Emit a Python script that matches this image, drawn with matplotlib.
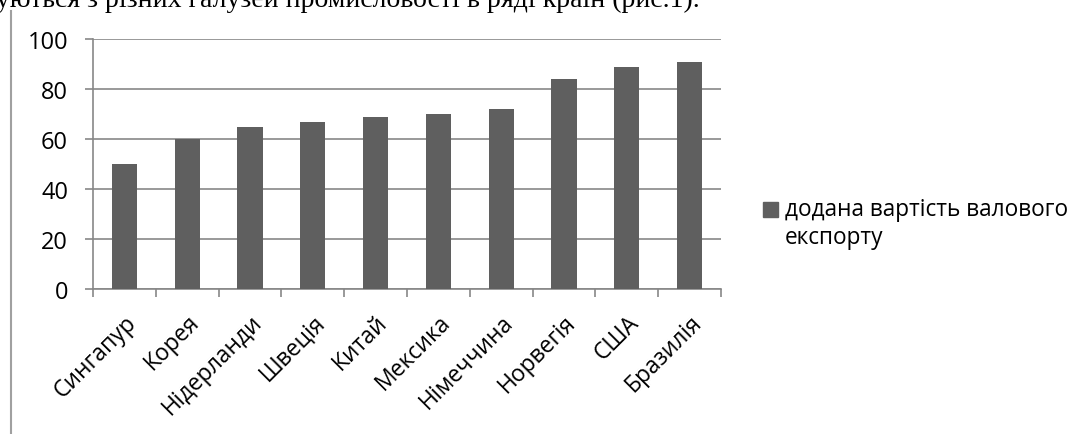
import matplotlib.pyplot as plt
from matplotlib.patches import Rectangle
from matplotlib.lines import Line2D

countries = ["Сингапур", "Корея", "Нідерланди", "Швеція", "Китай",
             "Мексика", "Німеччина", "Норвегія", "США", "Бразилія"]
values = [50, 60, 65, 67, 69, 70, 72, 84, 89, 91]
series_name = "додана вартість валового\nекспорту"
header = "уються з різних галузей промисловості в ряді країн (рис.1)."

W, H = 1088, 435
plt.rcParams['font.family'] = ['Open Sans', 'DejaVu Sans']

fig = plt.figure(figsize=(W / 100, H / 100), dpi=100)
ax = fig.add_axes([93 / W, 1 - 290 / H, (721 - 93) / W, 250 / H])

bar_color = '#5f5f5f'
grid_color = '#878787'
x = list(range(len(countries)))
ax.bar(x, values, width=0.4, color=bar_color, zorder=3)

ax.set_xlim(-0.5, len(countries) - 0.5)
ax.set_ylim(0, 100)
ax.set_yticks(range(0, 101, 20))
ax.yaxis.grid(True, color=grid_color, linewidth=1.2, zorder=0)
ax.tick_params(axis='y', length=6, width=1.2, color=grid_color, pad=12,
               labelsize=17, labelcolor='black')

# ticks between categories, labels at centers
ax.set_xticks([i - 0.5 for i in range(len(countries) + 1)])
ax.set_xticklabels([])
ax.set_xticks(x, minor=True)
ax.set_xticklabels(countries, minor=True, rotation=45, ha='right',
                   va='top', rotation_mode='anchor', fontsize=16.5)
ax.tick_params(axis='x', which='major', length=6, width=1.2, color=grid_color)
ax.tick_params(axis='x', which='minor', length=0, pad=15)

for side in ['top', 'right']:
    ax.spines[side].set_visible(False)
for side in ['left', 'bottom']:
    ax.spines[side].set_color(grid_color)
    ax.spines[side].set_linewidth(1.2)

# legend drawn by hand so the square sits on the first line
fig.add_artist(Rectangle((763 / W, 1 - 218 / H), 15 / W, 15 / H,
                         transform=fig.transFigure, color=bar_color))
fig.text(785 / W, 1 - 198 / H, series_name, fontsize=16.3, va='top',
         ha='left', linespacing=1.2)

# cut-off line of document text and page border
fig.text(-4 / W, 1 - 7 / H, header, family='Liberation Serif', fontsize=20,
         va='baseline', ha='left')
fig.add_artist(Line2D([10.5 / W, 10.5 / W], [0, 1 - 12 / H],
                      transform=fig.transFigure, color='#a0a0a0', linewidth=1.5))

fig.savefig('out.png', dpi=100)
